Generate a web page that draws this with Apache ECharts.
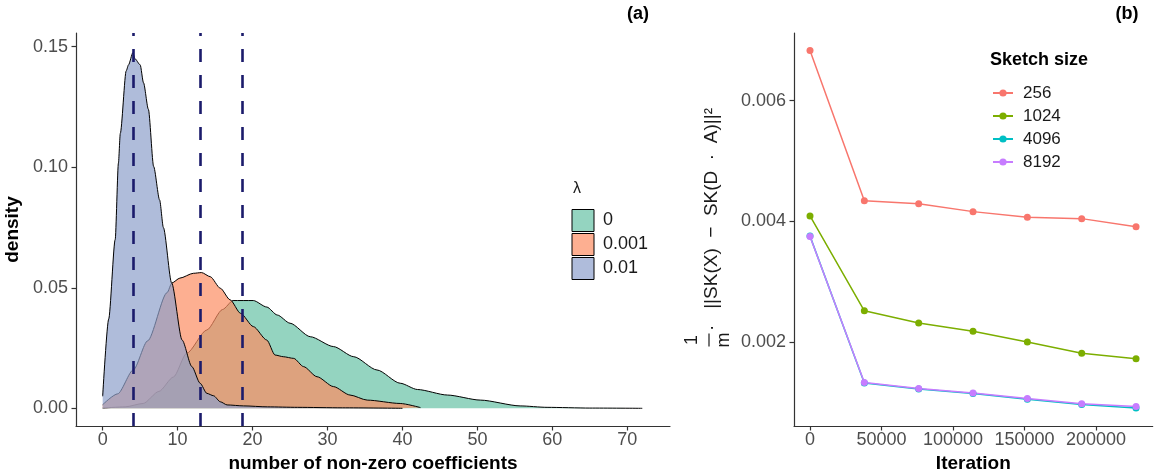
<!DOCTYPE html>
<html><head><meta charset="utf-8">
<script src="https://cdn.jsdelivr.net/npm/echarts@6/dist/echarts.min.js"></script>
<style>html,body{margin:0;padding:0;background:#fff}#c{width:1156px;height:475px}</style>
</head><body><div id="c"></div>
<script>
// ---------- Panel (a): density of number of non-zero coefficients ----------
const lambdaLabels = ['0', '0.001', '0.01'];
const dens0X = [0, 3, 5.4, 7.5, 9.45, 11.2, 13.9, 16, 17.4, 20.1, 21.9, 23.3, 25.0, 27.7, 30.8, 33.5, 36.6, 39.7, 42, 46, 50.4, 55.7, 59.3, 65, 72];
const dens0Y = [0.0001, 0.0006, 0.002, 0.007, 0.013, 0.0228, 0.0325, 0.041, 0.0447, 0.0447, 0.042, 0.0387, 0.0353, 0.0297, 0.0256, 0.0214, 0.0159, 0.0104, 0.0078, 0.0055, 0.0034, 0.001, 0.0004, 0.0001, 0.0];
const dens001X = [0, 2, 4.1, 6, 8.6, 9.24, 10.3, 12.1, 13.2, 14.35, 15.7, 17.0, 18.4, 20.1, 21.9, 23.0, 24.1, 25.5, 26.8, 28.6, 30.8, 33.0, 35.3, 39.7, 42.4];
const dens001Y = [0.0015, 0.006, 0.016, 0.028, 0.048, 0.052, 0.054, 0.056, 0.0563, 0.0546, 0.0498, 0.045, 0.0394, 0.0339, 0.0283, 0.0221, 0.0214, 0.0207, 0.0173, 0.0131, 0.009, 0.0055, 0.0034, 0.002, 0.0003];
const dens01X = [0, 0.8, 1.67, 2.1, 2.35, 3.14, 3.45, 4.03, 4.3, 5.0, 5.45, 6.1, 6.8, 7.6, 8.1, 9.2, 10.6, 11.9, 13.0, 13.9, 14.8, 15.7, 16.6, 18.8, 22, 26, 32, 40];
const dens01Y = [0.005, 0.037, 0.070, 0.1017, 0.114, 0.140, 0.1425, 0.1475, 0.145, 0.1425, 0.135, 0.124, 0.1003, 0.0864, 0.075, 0.052, 0.0283, 0.0173, 0.0104, 0.0062, 0.0052, 0.0027, 0.0014, 0.001, 0.0006, 0.0004, 0.0002, 0.0];
const medianLines = [4.1, 13.06, 18.67];
const leftXTicks = [0, 10, 20, 30, 40, 50, 60, 70];
const leftYTicks = [0, 0.05, 0.10, 0.15];

// ---------- Panel (b): sketch error vs iteration ----------
const sketchSizes = ['256', '1024', '4096', '8192'];
const iterations = [0, 38000, 76000, 114000, 152000, 190000, 228000];
const err256 = [0.00683, 0.004342, 0.004293, 0.004161, 0.004066, 0.004045, 0.003912];
const err1024 = [0.004089, 0.002517, 0.002314, 0.002177, 0.002000, 0.001813, 0.001724];
const err4096 = [0.003755, 0.001322, 0.001222, 0.001148, 0.001050, 0.000962, 0.000905];
const err8192 = [0.003750, 0.001330, 0.001230, 0.001155, 0.001062, 0.000978, 0.000930];
const rightXTicks = [0, 50000, 100000, 150000, 200000];
const rightYTicks = [0.002, 0.004, 0.006];

const FONT = "'Liberation Sans', Arial, Helvetica, sans-serif";
const set2 = ['#66C2A5', '#FC8D62', '#8DA0CB'];
const set2Blend = ['#94d4c0', '#fdaf91', '#afbcdb'];
const hue4 = ['#F8766D', '#7CAE00', '#00BFC4', '#C77CFF'];

const zip = (xs, ys) => xs.map((x, i) => [x, ys[i]]);
const densData = [zip(dens0X, dens0Y), zip(dens001X, dens001Y), zip(dens01X, dens01Y)];
const errData = [err256, err1024, err4096, err8192].map(a => zip(iterations, a));

const axisLineStyle = { color: '#333333', width: 1.2 };
const tickLabel = { fontFamily: FONT, fontSize: 18, color: '#4d4d4d' };
const axisTitle = { fontFamily: FONT, fontSize: 19, fontWeight: 'bold', color: '#000' };

function xAxisCfg(grid, min, max, ticks, name, fmt) {
  return {
    gridIndex: grid, type: 'value', min: min, max: max,
    axisLine: { show: true, onZero: false, lineStyle: axisLineStyle },
    axisTick: { show: true, length: 4.5, customValues: ticks, lineStyle: axisLineStyle },
    axisLabel: Object.assign({ customValues: ticks, formatter: fmt, margin: 5 }, tickLabel),
    splitLine: { show: false },
    name: name, nameLocation: 'middle', nameGap: 27, nameTextStyle: axisTitle
  };
}
function yAxisCfg(grid, min, max, ticks, name, fmt, gap) {
  return {
    gridIndex: grid, type: 'value', min: min, max: max,
    axisLine: { show: true, onZero: false, lineStyle: axisLineStyle },
    axisTick: { show: true, length: 4.5, customValues: ticks, lineStyle: axisLineStyle },
    axisLabel: Object.assign({ customValues: ticks, formatter: fmt, margin: 8 }, tickLabel),
    splitLine: { show: false },
    name: name, nameLocation: 'middle', nameRotate: 90, nameGap: gap, nameTextStyle: axisTitle
  };
}

const series = [];
lambdaLabels.forEach((lab, i) => {
  const s = {
    name: lab, type: 'line', xAxisIndex: 0, yAxisIndex: 0,
    data: densData[i], smooth: 0.25, smoothMonotone: 'x', showSymbol: false, symbol: 'none',
    color: set2Blend[i],
    lineStyle: { color: '#000', width: 1 },
    areaStyle: { color: set2[i], opacity: 0.7 },
    z: 2 + i, silent: true
  };
  if (i === lambdaLabels.length - 1) {
    s.markLine = {
      silent: true, symbol: ['none', 'none'], label: { show: false },
      lineStyle: { type: [13, 13], color: '#1b1b6b', width: 2.6 },
      emphasis: { disabled: true },
      data: medianLines.map(v => ({ xAxis: v }))
    };
  }
  series.push(s);
});
sketchSizes.forEach((lab, i) => {
  series.push({
    name: lab, type: 'line', xAxisIndex: 1, yAxisIndex: 1,
    data: errData[i], symbol: 'circle', symbolSize: 7, showSymbol: true,
    color: hue4[i], lineStyle: { color: hue4[i], width: 1.5 },
    itemStyle: { color: hue4[i] }, silent: true
  });
});

const option = {
  animation: false,
  backgroundColor: '#ffffff',
  grid: [
    { left: 76, top: 33, width: 594, height: 393, containLabel: false, outerBoundsMode: 'none' },
    { left: 794, top: 33, width: 358.7, height: 393, containLabel: false, outerBoundsMode: 'none' }
  ],
  xAxis: [
    xAxisCfg(0, -3.56, 75.70, leftXTicks, 'number of non-zero coefficients', v => String(v)),
    xAxisCfg(1, -11189, 239650, rightXTicks, 'Iteration', v => String(Math.round(v)))
  ],
  yAxis: [
    yAxisCfg(0, -0.00734, 0.15568, leftYTicks, 'density', v => v.toFixed(2), 51),
    yAxisCfg(1, 0.0006075, 0.007122, rightYTicks, '', v => v.toFixed(3), 60)
  ],
  legend: [
    {
      data: lambdaLabels, orient: 'vertical', left: 571.5, top: 209, padding: 0,
      icon: 'rect', itemWidth: 22, itemHeight: 22, itemGap: 1,
      itemStyle: { borderColor: '#000', borderWidth: 1 },
      textStyle: { fontFamily: FONT, fontSize: 18, color: '#1a1a1a', padding: [0, 0, 0, 4] },
      selectedMode: false
    },
    {
      data: sketchSizes, orient: 'vertical', left: 992, top: 84.5, padding: 0,
      itemWidth: 20, itemHeight: 9, itemGap: 6,
      textStyle: { fontFamily: FONT, fontSize: 17, lineHeight: 14, color: '#1a1a1a', padding: [0, 0, 0, 5] },
      selectedMode: false
    }
  ],
  graphic: [
    { type: 'text', x: 638, y: 14, style: { text: '(a)', font: 'bold 18px ' + FONT, fill: '#000', align: 'center', verticalAlign: 'middle' } },
    { type: 'text', x: 1127, y: 14, style: { text: '(b)', font: 'bold 18px ' + FONT, fill: '#000', align: 'center', verticalAlign: 'middle' } },
    { type: 'text', x: 577, y: 189, style: { text: 'λ', font: '16px ' + FONT, fill: '#1a1a1a', align: 'center', verticalAlign: 'middle' } },
    { type: 'text', x: 990, y: 60, style: { text: 'Sketch size', font: 'bold 18px ' + FONT, fill: '#000', align: 'left', verticalAlign: 'middle' } },
    {
      type: 'group', x: 709, y: 340, rotation: Math.PI / 2,
      children: [
        { type: 'text', x: 0, y: -17, style: { text: '1', font: '18px ' + FONT, fill: '#1a1a1a', align: 'center', verticalAlign: 'middle' } },
        { type: 'line', shape: { x1: -6.5, y1: 0, x2: 6.5, y2: 0 }, style: { stroke: '#1a1a1a', lineWidth: 1.2 } },
        { type: 'text', x: 0, y: 15, style: { text: 'm', font: '18px ' + FONT, fill: '#1a1a1a', align: 'center', verticalAlign: 'middle' } },
        { type: 'text', x: 9, y: 3, style: { text: '·   ||SK(X)  −  SK(D  ·  A)||²', font: '19px ' + FONT, fill: '#1a1a1a', align: 'left', verticalAlign: 'middle' } }
      ]
    }
  ],
  series: series
};

const chart = echarts.init(document.getElementById('c'), null, { renderer: 'canvas' });
chart.setOption(option);
</script></body></html>
